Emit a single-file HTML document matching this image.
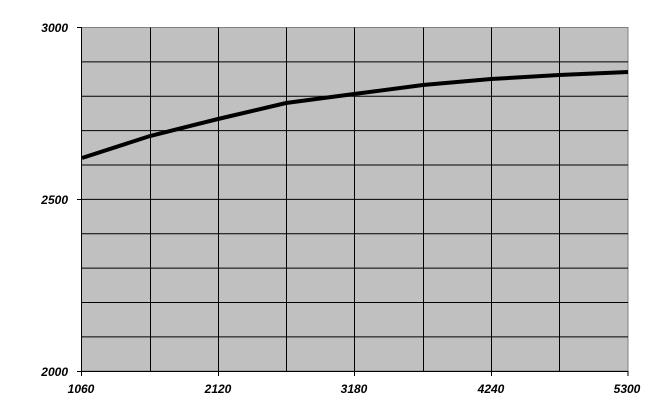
<!DOCTYPE html>
<html><head><style>body{margin:0;background:#fff}svg{display:block}text{font-family:"Liberation Sans",sans-serif;font-size:12px;font-weight:bold;font-style:italic}</style></head><body>
<svg width="661" height="419" xmlns="http://www.w3.org/2000/svg">
<rect x="81.5" y="27.5" width="546.5" height="343.5" fill="#c0c0c0" stroke="#808080"/>
<g stroke="#000" stroke-width="1">
<line x1="81.5" y1="61.9" x2="628" y2="61.9"/><line x1="81.5" y1="96.3" x2="628" y2="96.3"/><line x1="81.5" y1="130.6" x2="628" y2="130.6"/><line x1="81.5" y1="165" x2="628" y2="165"/><line x1="81.5" y1="199.4" x2="628" y2="199.4"/><line x1="81.5" y1="233.8" x2="628" y2="233.8"/><line x1="81.5" y1="268.1" x2="628" y2="268.1"/><line x1="81.5" y1="302.5" x2="628" y2="302.5"/><line x1="81.5" y1="336.9" x2="628" y2="336.9"/>
<line x1="150.5" y1="27.5" x2="150.5" y2="371"/><line x1="218.5" y1="27.5" x2="218.5" y2="371"/><line x1="286.5" y1="27.5" x2="286.5" y2="371"/><line x1="354.5" y1="27.5" x2="354.5" y2="371"/><line x1="423.5" y1="27.5" x2="423.5" y2="371"/><line x1="491.5" y1="27.5" x2="491.5" y2="371"/><line x1="559.5" y1="27.5" x2="559.5" y2="371"/>
<line x1="81.5" y1="27" x2="81.5" y2="376"/><line x1="77" y1="371.5" x2="628" y2="371.5"/>
<line x1="77" y1="27.5" x2="81.5" y2="27.5"/><line x1="77" y1="199.5" x2="81.5" y2="199.5"/>
<line x1="218.5" y1="371" x2="218.5" y2="376"/><line x1="354.5" y1="371" x2="354.5" y2="376"/><line x1="491.5" y1="371" x2="491.5" y2="376"/><line x1="628" y1="371" x2="628" y2="376"/>
</g>
<polyline fill="none" stroke="#000" stroke-width="4" points="82,158 150,136 218,119 286,103 354,94 423,85 491,79 559,75 628,72"/>
<g text-anchor="end"><text x="68" y="32">3000</text><text x="68" y="204">2500</text><text x="68" y="376">2000</text></g>
<g text-anchor="middle"><text x="81" y="393">1060</text><text x="218" y="393">2120</text><text x="354" y="393">3180</text><text x="491" y="393">4240</text><text x="627" y="393">5300</text></g>
</svg></body></html>
